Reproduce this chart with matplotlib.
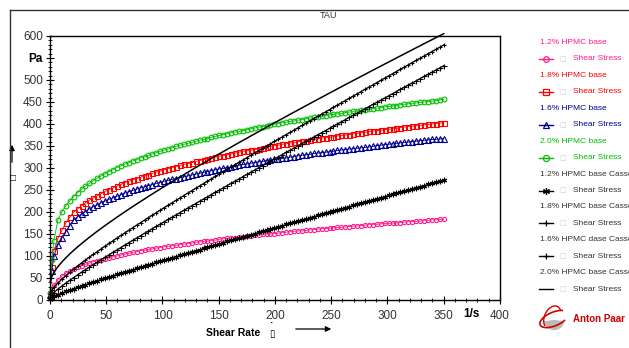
import matplotlib.pyplot as plt
import matplotlib.patches as patches
from matplotlib.lines import Line2D
from matplotlib.ticker import MultipleLocator, FixedLocator, FixedFormatter

plt.rcParams['font.family'] = ['Liberation Sans', 'DejaVu Sans']

# shear rate [1/s]
shear_rate = [0.1, 1.5, 3.5, 7, 10.5, 14, 17.5, 21, 24.5, 28, 31.5, 35, 38.5, 42, 45.5,
              49, 52.5, 56, 59.5, 63, 66.5, 70, 73.5, 77, 80.5, 84, 87.5, 91, 94.5, 98,
              101.5, 105, 108.5, 112, 115.5, 119, 122.5, 126, 129.5, 133, 136.5, 140,
              143.5, 147, 150.5, 154, 157.5, 161, 164.5, 168, 171.5, 175, 178.5, 182,
              185.5, 189, 192.5, 196, 199.5, 203, 206.5, 210, 213.5, 217, 220.5, 224,
              227.5, 231, 234.5, 238, 241.5, 245, 248.5, 252, 255.5, 259, 262.5, 266,
              269.5, 273, 276.5, 280, 283.5, 287, 290.5, 294, 297.5, 301, 304.5, 308,
              311.5, 315, 318.5, 322, 325.5, 329, 332.5, 336, 339.5, 343, 346.5, 350]

# shear stress [Pa], measured
tau_12 = [5, 22, 34,
          46, 55, 61, 66, 70, 74, 78, 81, 84, 87, 89, 92, 94, 96, 98, 100, 102, 104,
          106, 108, 110, 112, 113, 115, 116, 118, 119, 121, 122, 123, 124, 126, 127,
          128, 129, 131, 132, 133, 134, 135, 136, 138, 139, 140, 141, 142, 143, 144,
          145, 146, 147, 148, 149, 150, 150, 151, 152, 153, 154, 155, 156, 157, 157,
          158, 159, 160, 161, 162, 162, 163, 164, 165, 165, 166, 167, 168, 168, 169,
          170, 171, 171, 172, 173, 174, 174, 175, 175, 176, 177, 178, 178, 179, 179,
          180, 181, 182, 182, 183, 183]
tau_18 = [14, 75, 112,
          140, 158, 175, 188, 200, 207, 214, 221, 227, 232, 237, 242, 247, 251, 255,
          259, 263, 267, 270, 273, 276, 279, 282, 285, 288, 291, 293, 296, 298, 301,
          303, 306, 308, 310, 312, 315, 317, 319, 321, 323, 325, 327, 328, 330, 332,
          334, 336, 338, 339, 341, 342, 344, 346, 348, 349, 351, 352, 354, 355, 357,
          358, 360, 361, 362, 363, 365, 366, 368, 369, 370, 371, 373, 374, 375, 376,
          378, 379, 380, 381, 383, 384, 385, 386, 387, 388, 389, 390, 392, 393, 394,
          395, 396, 397, 398, 399, 400, 401, 402, 403]
tau_16 = [12, 65, 100,
          125, 141, 155, 169, 182, 189, 195, 201, 207, 212, 216, 221, 225, 229, 232,
          236, 239, 243, 246, 249, 252, 255, 257, 260, 262, 265, 267, 270, 272, 274,
          276, 278, 280, 282, 284, 286, 288, 290, 292, 294, 296, 298, 299, 301, 302,
          304, 306, 308, 309, 311, 312, 314, 315, 317, 318, 320, 321, 322, 323, 325,
          326, 328, 329, 330, 331, 333, 334, 335, 336, 337, 338, 340, 341, 342, 343,
          344, 345, 346, 347, 348, 349, 351, 352, 353, 354, 355, 356, 357, 358, 359,
          360, 361, 362, 363, 364, 365, 365, 366, 367]
tau_20 = [16, 90, 135,
          182, 200, 214, 225, 235, 244, 252, 259, 265, 271, 277, 282, 287, 292, 296,
          301, 305, 309, 312, 316, 319, 323, 326, 329, 332, 335, 338, 341, 343, 346,
          349, 352, 354, 356, 358, 361, 363, 365, 367, 370, 372, 374, 376, 378, 380,
          382, 383, 385, 387, 389, 391, 393, 394, 396, 398, 400, 401, 403, 404, 406,
          407, 409, 410, 412, 413, 415, 416, 418, 419, 421, 422, 423, 424, 426, 427,
          429, 430, 431, 432, 434, 435, 436, 437, 439, 440, 441, 442, 444, 445, 446,
          447, 448, 449, 450, 451, 452, 453, 455, 456]

# Casson fits
cas_12 = [2.7, 5.6, 8.4,
          12.4, 16.0, 19.4, 22.7, 25.9, 29.0, 32.0, 35.0, 38.0, 41.0,
          43.9, 46.8, 49.6, 52.5, 55.3, 58.1, 60.9, 63.7, 66.4, 69.2,
          71.9, 74.6, 77.3, 80.1, 82.8, 85.5, 88.2, 90.9, 93.5, 96.2,
          98.8, 101.5, 104.1, 106.8, 109.4, 112.1, 114.7, 117.4, 120.0, 122.6,
          125.2, 127.8, 130.4, 133.0, 135.6, 138.2, 140.8, 143.4, 146.0, 148.6,
          151.1, 153.7, 156.3, 158.9, 161.4, 164.0, 166.6, 169.2, 171.7, 174.3,
          176.8, 179.4, 181.9, 184.5, 187.0, 189.6, 192.1, 194.7, 197.2, 199.8,
          202.3, 204.9, 207.4, 209.9, 212.4, 215.0, 217.5, 220.0, 222.5, 225.1,
          227.6, 230.1, 232.6, 235.1, 237.6, 240.2, 242.7, 245.2, 247.7, 250.2,
          252.7, 255.2, 257.7, 260.2, 262.7, 265.2, 267.7, 270.3, 272.8]
cas_18 = [13.3, 21.6, 28.8,
          38.8, 47.5, 55.5, 62.9, 70.3, 77.2, 84.1, 90.7, 97.3, 103.7,
          110.0, 116.3, 122.5, 128.6, 134.7, 140.7, 146.6, 152.5, 158.4, 164.2,
          170.0, 175.8, 181.5, 187.2, 192.9, 198.6, 204.2, 209.8, 215.3, 220.9,
          226.4, 232.0, 237.5, 243.0, 248.4, 253.9, 259.3, 264.7, 270.1, 275.5,
          280.9, 286.3, 291.6, 297.0, 302.3, 307.6, 312.9, 318.2, 323.5, 328.8,
          334.1, 339.4, 344.6, 349.9, 355.1, 360.4, 365.6, 370.8, 376.0, 381.2,
          386.4, 391.6, 396.7, 401.9, 407.1, 412.3, 417.4, 422.6, 427.7, 432.8,
          437.9, 443.1, 448.2, 453.3, 458.4, 463.5, 468.6, 473.7, 478.8, 483.9,
          488.9, 494.0, 499.1, 504.2, 509.2, 514.3, 519.3, 524.4, 529.4, 534.5,
          539.5, 544.5, 549.5, 554.6, 559.6, 564.6, 569.6, 574.6, 579.6]
cas_16 = [5.4, 11.2, 16.7,
          24.6, 31.6, 38.3, 44.7, 51.0, 57.0, 63.0, 68.9, 74.7, 80.4,
          86.1, 91.7, 97.3, 102.9, 108.4, 113.9, 119.3, 124.7, 130.1, 135.5,
          140.9, 146.2, 151.5, 156.8, 162.1, 167.4, 172.6, 177.8, 183.0, 188.2,
          193.4, 198.6, 203.8, 209.0, 214.1, 219.3, 224.4, 229.5, 234.6, 239.7,
          244.8, 249.9, 255.0, 260.1, 265.1, 270.2, 275.3, 280.3, 285.3, 290.4,
          295.4, 300.5, 305.5, 310.5, 315.5, 320.5, 325.5, 330.5, 335.5, 340.5,
          345.5, 350.5, 355.4, 360.4, 365.4, 370.4, 375.3, 380.3, 385.2, 390.2,
          395.1, 400.1, 405.0, 409.9, 414.8, 419.8, 424.7, 429.6, 434.5, 439.5,
          444.4, 449.3, 454.2, 459.1, 464.0, 468.9, 473.8, 478.7, 483.6, 488.5,
          493.3, 498.2, 503.1, 508.0, 512.9, 517.8, 522.6, 527.5, 532.4]
cas_20 = [40.9, 53.2, 62.9,
          75.7, 86.3, 95.7, 104.4, 112.7, 120.6, 128.1, 135.4, 142.5, 149.4,
          156.2, 162.8, 169.3, 175.7, 181.9, 188.2, 194.3, 200.4, 206.3, 212.3,
          218.1, 223.9, 229.6, 235.4, 241.0, 246.7, 252.2, 257.8, 263.2, 268.7,
          274.1, 279.6, 284.9, 290.3, 295.6, 301.0, 306.2, 311.5, 316.6, 321.9,
          327.0, 332.2, 337.3, 342.5, 347.5, 352.7, 357.7, 362.8, 367.7, 372.8,
          377.8, 382.8, 387.7, 392.7, 397.6, 402.6, 407.5, 412.4, 417.2, 422.2,
          427.0, 431.9, 436.7, 441.6, 446.3, 451.2, 456.0, 460.8, 465.5, 470.4,
          475.1, 479.9, 484.6, 489.4, 494.0, 498.8, 503.4, 508.2, 512.8, 517.6,
          522.2, 526.9, 531.5, 536.2, 540.8, 545.5, 550.1, 554.8, 559.4, 564.1,
          568.6, 573.3, 577.8, 582.5, 587.0, 591.6, 596.1, 600.7, 605.2]

legend_names = ['1.2% HPMC base', '1.8% HPMC base', '1.6% HPMC base', '2.0% HPMC base',
                '1.2% HPMC base Casson', '1.8% HPMC base Casson',
                '1.6% HPMC dase Casson', '2.0% HPMC base Casson']

pink = '#ff1a8c'
red = '#ff0000'
navy = '#000090'
green = '#00c000'
asterisk = (6, 2, 0)

# values, colour, marker, marker size, line width
series = [
    (tau_12, pink, 'o', 3.0, 0.6),
    (tau_18, red, 's', 3.6, 0.6),
    (tau_16, navy, '^', 3.8, 0.6),
    (tau_20, green, 'o', 3.4, 0.6),
    (cas_12, 'black', asterisk, 4.0, 0.7),
    (cas_18, 'black', '+', 3.2, 0.9),
    (cas_16, 'black', '+', 3.6, 0.9),
    (cas_20, 'black', None, 0, 1.1),
]

W, H = 629, 348
fig = plt.figure(figsize=(W / 100, H / 100), dpi=100)


def fx(px):
    return px / W


def fy(py):
    return 1 - py / H


ax = fig.add_axes([fx(50), fy(300), 450 / W, 264 / H])

for vals, col, mk, ms, lw in series:
    ax.plot(shear_rate, vals, color=col, marker=mk, markersize=ms, mfc='none',
            mew=0.8, lw=lw, clip_on=False)

ax.set_xlim(0, 400)
ax.set_ylim(0, 600)
ax.xaxis.set_major_locator(MultipleLocator(50))
ax.xaxis.set_minor_locator(MultipleLocator(10))
yt = list(range(0, 650, 50))
ax.yaxis.set_major_locator(FixedLocator(yt))
ax.yaxis.set_major_formatter(FixedFormatter([str(v) if v != 550 else 'Pa' for v in yt]))
ax.yaxis.set_minor_locator(MultipleLocator(10))
ax.tick_params(which='major', direction='inout', length=6, width=0.8,
               labelsize=8.5, labelcolor='#333333')
ax.tick_params(which='minor', direction='inout', length=3, width=0.6)
ax.tick_params(axis='x', which='major', pad=4)
ax.tick_params(axis='y', which='major', pad=2)
for lab in ax.get_yticklabels():
    if lab.get_text() == 'Pa':
        lab.set_fontweight('bold')
        lab.set_color('black')
for sp in ax.spines.values():
    sp.set_linewidth(1)

# unit label in the tick label row
fig.text(fx(50 + 375 * 450 / 400), fy(314), '1/s', ha='center', va='center',
         fontsize=8.5, fontweight='bold')

# titles and axis captions
fig.text(fx(329), fy(16), 'TAU', ha='center', va='center', fontsize=6.5, color='#333333')
fig.text(fx(206), fy(333), 'Shear Rate', ha='left', va='center', fontsize=7.5,
         fontweight='bold')
fig.text(fx(272), fy(331), '\u02d9\n\u25af', ha='center', va='center', fontsize=7,
         fontweight='bold', linespacing=0.55)
ax.annotate('', xy=(fx(334), fy(329)), xytext=(fx(293), fy(329)),
            xycoords='figure fraction',
            arrowprops=dict(arrowstyle='-|>', color='black', lw=0.9, mutation_scale=8))
ax.annotate('', xy=(fx(12), fy(142)), xytext=(fx(12), fy(165)),
            xycoords='figure fraction',
            arrowprops=dict(arrowstyle='-|>', color='black', lw=0.9, mutation_scale=8))
fig.text(fx(12.5), fy(178), '\u25a1', ha='center', va='center', fontsize=7,
         fontweight='bold')

# outer frame
fig.add_artist(Line2D([fx(9.5), fx(9.5)], [fy(10), 0], color='#333333', lw=1))
fig.add_artist(Line2D([fx(9.5), 1], [fy(10), fy(10)], color='#333333', lw=1))

# legend
text_cols = [pink, red, navy, green] + ['#333333'] * 4
for i, (name, (vals, col, mk, ms, lw)) in enumerate(zip(legend_names, series)):
    ty = 42.5 + 32.9 * i
    my = ty + 16.4
    fig.text(fx(540), fy(ty), name, ha='left', va='center', fontsize=6,
             color=text_cols[i])
    fig.add_artist(Line2D([fx(539), fx(553)], [fy(my), fy(my)], color=col, lw=1))
    if mk is not None:
        fig.add_artist(Line2D([fx(546)], [fy(my)], color=col, marker=mk,
                              markersize=ms + 1, mfc='none', mew=0.9))
    fig.text(fx(563), fy(my), '\u25a1', ha='center', va='center', fontsize=5,
             color='#cccccc', family='DejaVu Sans')
    fig.text(fx(573), fy(my), 'Shear Stress', ha='left', va='center', fontsize=6,
             color=text_cols[i])

# logo
fig.text(fx(573), fy(319), 'Anton Paar', ha='left', va='center', fontsize=7,
         fontweight='bold', color='#d00000')
lax = fig.add_axes([fx(538), fy(334), 32 / W, 30 / H])
lax.set_xlim(0, 1)
lax.set_ylim(0, 1)
lax.axis('off')
lax.add_patch(patches.Wedge((0.5, 0.45), 0.3, 190, 350, color='#bbbbbb'))
lax.add_patch(patches.Arc((0.5, 0.5), 0.95, 0.45, angle=25, theta1=20, theta2=330,
                          color='#d00000', lw=1.2))
lax.add_patch(patches.Arc((0.45, 0.55), 0.5, 0.8, angle=-20, theta1=60, theta2=250,
                          color='#d00000', lw=1.0))

fig.savefig('out.png', dpi=100, facecolor='white')
